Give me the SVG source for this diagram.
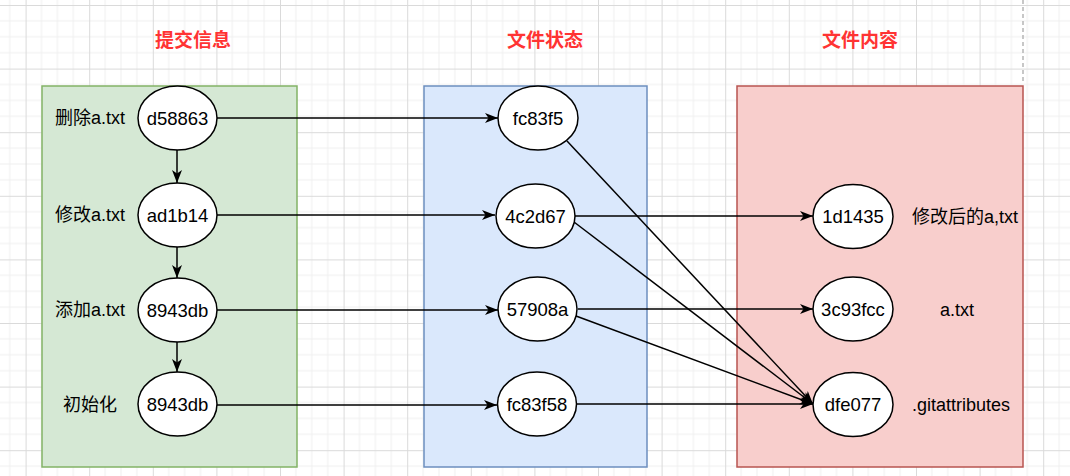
<svg xmlns="http://www.w3.org/2000/svg" width="1070" height="476" viewBox="0 0 1070 476">
<defs>
<pattern id="grid" patternUnits="userSpaceOnUse" x="25.6" y="5" width="63.6" height="63.6">
<path d="M15.9,0V63.6M31.8,0V63.6M47.7,0V63.6M0,15.9H63.6M0,31.8H63.6M0,47.7H63.6" stroke="#f0f0f0" stroke-width="1" fill="none"/>
<path d="M0.5,0V63.6M0,0.5H63.6" stroke="#dadada" stroke-width="1" fill="none"/>
</pattern>
<marker id="arr" markerWidth="14" markerHeight="12" refX="13" refY="6" orient="auto" markerUnits="userSpaceOnUse">
<path d="M0,1 L13,6 L0,11 L3.5,6 z" fill="#000"/>
</marker>
<style>
.title{font-family:"Liberation Sans","Noto Sans CJK SC",sans-serif;font-size:19px;font-weight:bold;fill:#ff3333;text-anchor:middle;dominant-baseline:central}
.lbl{font-family:"Liberation Sans","Noto Sans CJK SC",sans-serif;font-size:18px;fill:#000;text-anchor:middle;dominant-baseline:central}
.node ellipse{fill:#fff;stroke:#000;stroke-width:1.5}
.node text{font-family:"Liberation Sans","Noto Sans CJK SC",sans-serif;font-size:18.5px;fill:#000;text-anchor:middle;dominant-baseline:central}
.conn path{fill:none;stroke:#000;stroke-width:1.5;marker-end:url(#arr)}
</style>
</defs>
<rect width="1070" height="476" fill="#fff"/>
<rect width="1070" height="476" fill="url(#grid)"/>
<line x1="1023" y1="0" x2="1023" y2="82" stroke="#b5b5b5" stroke-width="1.5" stroke-dasharray="4 3"/>

<g id="titles">
<text class="title" x="193" y="40">提交信息</text>
<text class="title" x="545" y="40">文件状态</text>
<text class="title" x="860" y="40">文件内容</text>
</g>

<g id="commit-box"><rect x="42" y="86" width="255" height="381" fill="#d5e8d4" stroke="#82b366" stroke-width="1.5"/></g>
<g id="state-box"><rect x="424" y="86" width="223" height="381" fill="#dae8fc" stroke="#6c8ebf" stroke-width="1.5"/></g>
<g id="content-box"><rect x="737" y="86" width="286" height="381" fill="#f8cecc" stroke="#b85450" stroke-width="1.5"/></g>

<g id="labels">
<text class="lbl" x="90" y="118">删除a.txt</text>
<text class="lbl" x="90" y="215">修改a.txt</text>
<text class="lbl" x="90" y="310">添加a.txt</text>
<text class="lbl" x="90" y="405">初始化</text>
<text class="lbl" x="965" y="217">修改后的a,txt</text>
<text class="lbl" x="957" y="310">a.txt</text>
<text class="lbl" x="961" y="405">.gitattributes</text>
</g>

<g class="conn" id="connectors">
<path d="M217,118H498"/>
<path d="M217,215H495"/>
<path d="M217,310H498"/>
<path d="M217,405H497"/>
<path d="M177,150V183"/>
<path d="M177,247V278"/>
<path d="M177,342V372"/>
<path d="M575,216H813"/>
<path d="M578,309H813"/>
<path d="M577,404H813"/>
<path d="M567,141L813,404"/>
<path d="M574,222L813,404"/>
<path d="M576,316L813,404"/>
</g>

<g class="node" id="n-d58863"><ellipse cx="177.5" cy="118" rx="39.5" ry="32"/><text x="177.5" y="118">d58863</text></g>
<g class="node" id="n-ad1b14"><ellipse cx="177.5" cy="215" rx="39.5" ry="32"/><text x="177.5" y="215">ad1b14</text></g>
<g class="node" id="n-8943db-add"><ellipse cx="177.5" cy="310" rx="39.5" ry="32"/><text x="177.5" y="310">8943db</text></g>
<g class="node" id="n-8943db-init"><ellipse cx="177.5" cy="404" rx="39.5" ry="32"/><text x="177.5" y="404">8943db</text></g>

<g class="node" id="n-fc83f5"><ellipse cx="538" cy="118" rx="40" ry="32"/><text x="538" y="118">fc83f5</text></g>
<g class="node" id="n-4c2d67"><ellipse cx="535.5" cy="216" rx="39.5" ry="32"/><text x="535.5" y="216">4c2d67</text></g>
<g class="node" id="n-57908a"><ellipse cx="537.5" cy="309" rx="39.5" ry="32"/><text x="537.5" y="309">57908a</text></g>
<g class="node" id="n-fc83f58"><ellipse cx="537" cy="404" rx="39.5" ry="32"/><text x="537" y="404">fc83f58</text></g>

<g class="node" id="n-1d1435"><ellipse cx="853" cy="216.5" rx="40" ry="32"/><text x="853" y="216.5">1d1435</text></g>
<g class="node" id="n-3c93fcc"><ellipse cx="853" cy="309" rx="40" ry="32"/><text x="853" y="309">3c93fcc</text></g>
<g class="node" id="n-dfe077"><ellipse cx="853" cy="404.5" rx="40" ry="32"/><text x="853" y="404.5">dfe077</text></g>
</svg>
